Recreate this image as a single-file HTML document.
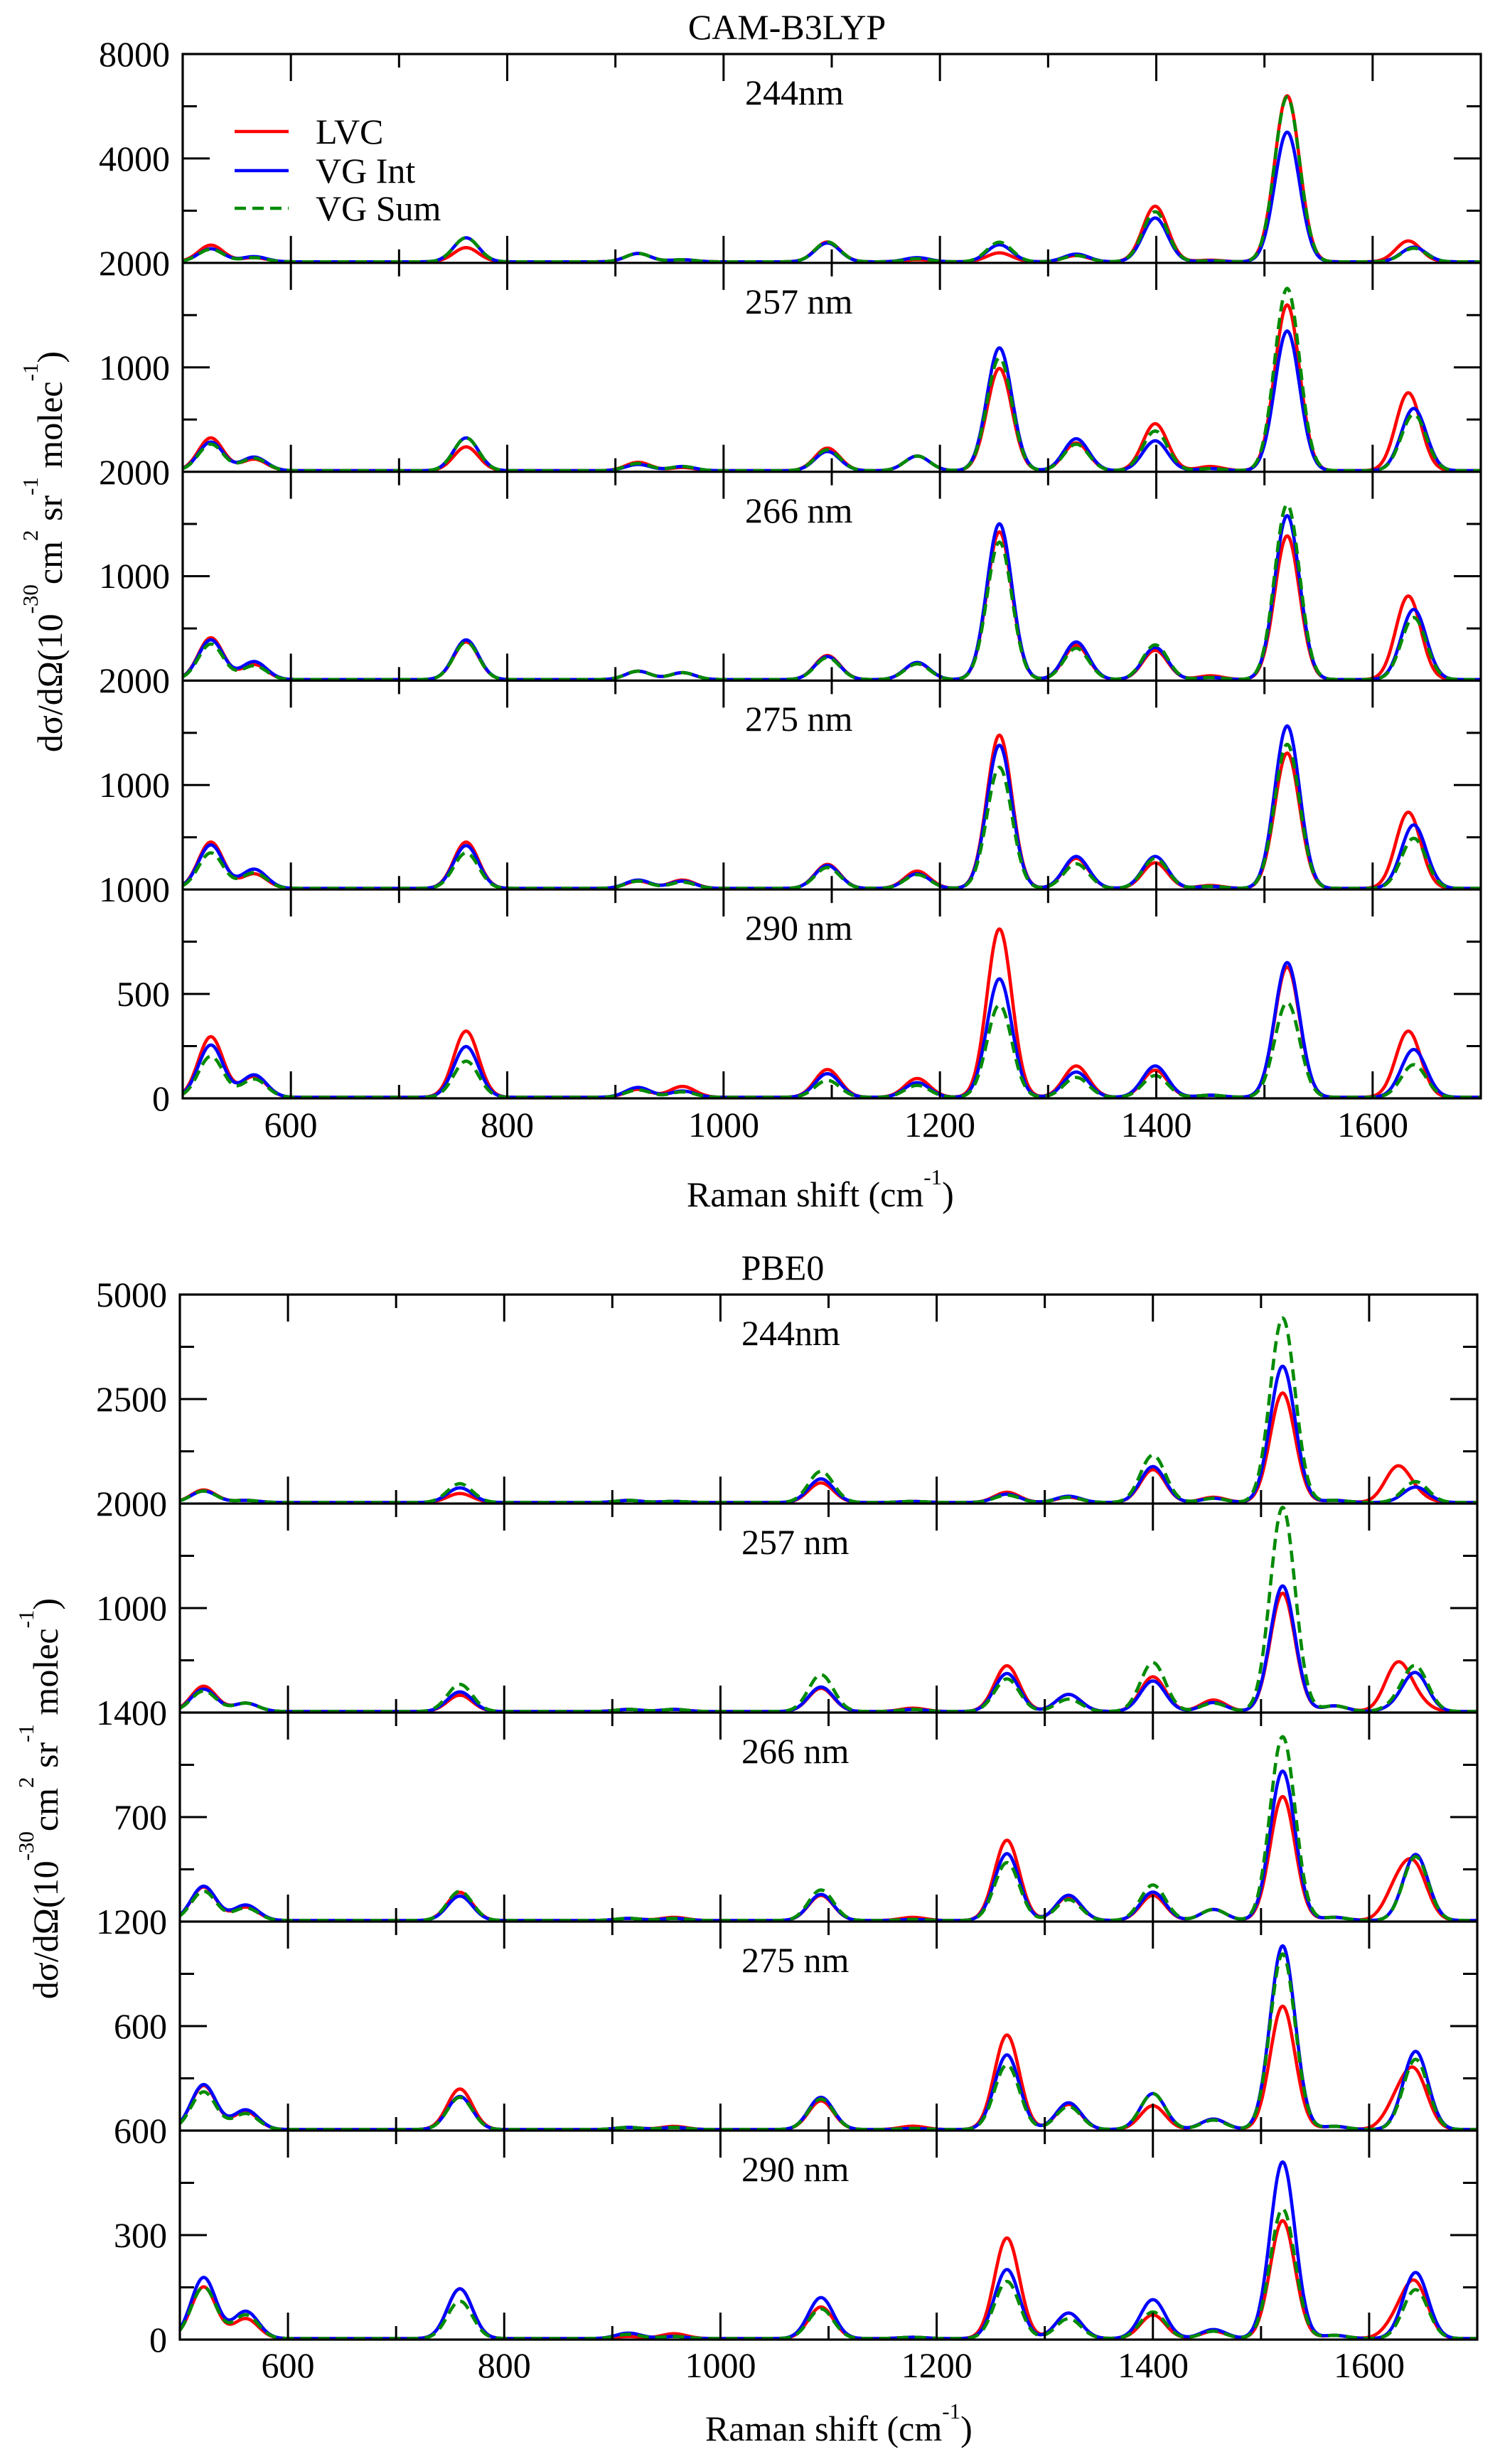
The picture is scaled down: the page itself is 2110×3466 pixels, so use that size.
<!DOCTYPE html>
<html><head><meta charset="utf-8"><style>html,body{margin:0;padding:0;background:#fff}svg{display:block}</style></head>
<body>
<svg id="fig" xmlns="http://www.w3.org/2000/svg" width="2110" height="3466" viewBox="0 0 2110 3466">
<rect x="0" y="0" width="2110" height="3466" fill="#fff"/>
<g id="curves"></g>
<g id="axes"></g>
<g font-family="'Liberation Serif','DejaVu Serif',serif" font-size="50" fill="#000">
<!-- Plot 1 -->
<text x="1107" y="55" text-anchor="middle">CAM-B3LYP</text>
<g text-anchor="end">
<text x="239" y="93">8000</text><text x="239" y="240">4000</text><text x="239" y="387">2000</text>
<text x="239" y="534">1000</text><text x="239" y="681">2000</text><text x="239" y="827">1000</text>
<text x="239" y="974">2000</text><text x="239" y="1121">1000</text><text x="239" y="1268">1000</text>
<text x="239" y="1415">500</text><text x="239" y="1562">0</text>
</g>
<g text-anchor="middle">
<text x="409" y="1599">600</text><text x="713.5" y="1599">800</text><text x="1018" y="1599">1000</text>
<text x="1322" y="1599">1200</text><text x="1626.5" y="1599">1400</text><text x="1931" y="1599">1600</text>
</g>
<text x="1048" y="147">244nm</text><text x="1048" y="441">257 nm</text><text x="1048" y="735">266 nm</text>
<text x="1048" y="1028">275 nm</text><text x="1048" y="1322">290 nm</text>
<text x="444" y="202">LVC</text><text x="444" y="257">VG Int</text><text x="444" y="310">VG Sum</text>
<text x="966" y="1697">Raman shift (cm<tspan dy="-31" font-size="31">-1</tspan><tspan dy="31">)</tspan></text>
<text transform="translate(87,776) rotate(-90)" text-anchor="middle">dσ/dΩ(10<tspan dy="-34" font-size="31">-30</tspan><tspan dy="34">cm</tspan><tspan dy="-34" font-size="31">2</tspan><tspan dy="34"> sr</tspan><tspan dy="-34" font-size="31">-1</tspan><tspan dy="34"> molec</tspan><tspan dy="-34" font-size="31">-1</tspan><tspan dy="34">)</tspan></text>
<!-- Plot 2 -->
<text x="1101" y="1800" text-anchor="middle">PBE0</text>
<g text-anchor="end">
<text x="235" y="1838">5000</text><text x="235" y="1985">2500</text><text x="235" y="2132">2000</text>
<text x="235" y="2279">1000</text><text x="235" y="2426">1400</text><text x="235" y="2573">700</text>
<text x="235" y="2720">1200</text><text x="235" y="2867">600</text><text x="235" y="3014">600</text>
<text x="235" y="3161">300</text><text x="235" y="3308">0</text>
</g>
<g text-anchor="middle">
<text x="405" y="3344">600</text><text x="709.3" y="3344">800</text><text x="1013.5" y="3344">1000</text>
<text x="1317.8" y="3344">1200</text><text x="1622" y="3344">1400</text><text x="1926" y="3344">1600</text>
</g>
<text x="1043" y="1892">244nm</text><text x="1043" y="2186">257 nm</text><text x="1043" y="2480">266 nm</text>
<text x="1043" y="2774">275 nm</text><text x="1043" y="3068">290 nm</text>
<text x="992" y="3433">Raman shift (cm<tspan dy="-31" font-size="31">-1</tspan><tspan dy="31">)</tspan></text>
<text transform="translate(81,2530) rotate(-90)" text-anchor="middle">dσ/dΩ(10<tspan dy="-34" font-size="31">-30</tspan><tspan dy="34">cm</tspan><tspan dy="-34" font-size="31">2</tspan><tspan dy="34"> sr</tspan><tspan dy="-34" font-size="31">-1</tspan><tspan dy="34"> molec</tspan><tspan dy="-34" font-size="31">-1</tspan><tspan dy="34">)</tspan></text>
</g>
<!-- legend lines -->
<line x1="330" y1="185" x2="406" y2="185" stroke="#ff0000" stroke-width="4.6"/>
<line x1="330" y1="240" x2="406" y2="240" stroke="#0000ff" stroke-width="4.6"/>
<line x1="330" y1="293" x2="406" y2="293" stroke="#008b00" stroke-width="4.6" stroke-dasharray="16 9"/>
</svg>
<script>
(function(){
var NS="http://www.w3.org/2000/svg";
function el(tag,attrs,parent){var e=document.createElementNS(NS,tag);for(var k in attrs)e.setAttribute(k,attrs[k]);parent.appendChild(e);return e;}
var axes=document.getElementById('axes'),curves=document.getElementById('curves');
var S=11.5,OFF=1.5;
function drawPlot(P){
  var L=P.L,R=P.R,T=P.T,H=P.H,sx=(R-L)/1200;
  function X(w){return L+(w-500)*sx;}
  var B=T+5*H,p,q,w,k;
  for(p=0;p<5;p++){
    var bot=T+(p+1)*H-OFF;
    var series=[['#ff0000',P.data[p][0],P.cR,null],['#0000ff',P.data[p][1],P.cB,null],['#008b00',P.data[p][2],P.cB,'16 9']];
    for(var s=0;s<3;s++){
      var col=series[s][0],amps=series[s][1],cs=series[s][2],dash=series[s][3];
      var d='';
      for(w=500;w<=1700;w+=1){
        var y=0;
        for(k=0;k<amps.length;k++){var dx=w-cs[k];if(dx>-70&&dx<70)y+=amps[k]*Math.exp(-dx*dx/(2*S*S));}
        d+=(w===500?'M':'L')+X(w).toFixed(1)+' '+(bot-y*H).toFixed(1);
      }
      var a={d:d,fill:'none',stroke:col,'stroke-width':4.6,'stroke-linejoin':'round'};
      if(dash)a['stroke-dasharray']=dash;
      el('path',a,curves);
    }
  }
  el('rect',{x:L,y:T,width:R-L,height:B-T,fill:'none',stroke:'#000','stroke-width':3.2},axes);
  for(p=1;p<5;p++){el('line',{x1:L,y1:T+p*H,x2:R,y2:T+p*H,stroke:'#000','stroke-width':3.2},axes);}
  for(p=0;p<5;p++){
    var top=T+p*H,bt=top+H;
    for(w=600;w<=1600;w+=100){
      var len=(w%200===0)?38:19,x=X(w);
      el('line',{x1:x,y1:top,x2:x,y2:top+len,stroke:'#000','stroke-width':3},axes);
      el('line',{x1:x,y1:bt,x2:x,y2:bt-len,stroke:'#000','stroke-width':3},axes);
    }
    for(q=1;q<=3;q++){
      var yy=bt-q*H/4,ln=(q===2)?38:20;
      el('line',{x1:L,y1:yy,x2:L+ln,y2:yy,stroke:'#000','stroke-width':3},axes);
      el('line',{x1:R,y1:yy,x2:R-ln,y2:yy,stroke:'#000','stroke-width':3},axes);
    }
  }
}
var camR=[526,566,762,921,962,1096,1179,1255,1326,1399,1450,1521,1633];
var camB=[526,566,762,921,962,1096,1179,1255,1326,1399,1450,1521,1638];
drawPlot({L:257,R:2083,T:76,H:293.8,cR:camR,cB:camB,data:[
 [[0.08,0.02,0.068,0.04,0.01,0.095,0.01,0.043,0.03,0.266,0.008,0.795,0.10],
  [0.0625,0.025,0.115,0.04,0.01,0.09,0.02,0.082,0.037,0.21,0.005,0.621,0.07],
  [0.06,0.02,0.115,0.04,0.01,0.095,0.015,0.094,0.03,0.24,0.005,0.79,0.065]],
 [[0.157,0.055,0.114,0.04,0.015,0.108,0.07,0.49,0.133,0.225,0.02,0.794,0.373],
  [0.137,0.065,0.157,0.03,0.02,0.092,0.07,0.588,0.153,0.143,0.01,0.669,0.298],
  [0.127,0.06,0.157,0.035,0.02,0.10,0.07,0.54,0.127,0.19,0.01,0.873,0.27]],
 [[0.20,0.072,0.18,0.04,0.033,0.115,0.08,0.707,0.164,0.14,0.018,0.688,0.40],
  [0.19,0.086,0.19,0.04,0.033,0.11,0.082,0.746,0.18,0.154,0.01,0.785,0.336],
  [0.17,0.066,0.18,0.04,0.033,0.105,0.075,0.658,0.15,0.166,0.01,0.838,0.297]],
 [[0.222,0.07,0.222,0.035,0.04,0.115,0.083,0.734,0.144,0.123,0.014,0.648,0.365],
  [0.208,0.092,0.205,0.04,0.035,0.11,0.07,0.686,0.153,0.153,0.01,0.778,0.304],
  [0.17,0.075,0.17,0.035,0.03,0.10,0.066,0.58,0.118,0.144,0.01,0.69,0.24]],
 [[0.29,0.10,0.317,0.038,0.052,0.133,0.09,0.806,0.15,0.13,0.01,0.624,0.317],
  [0.25,0.107,0.243,0.047,0.03,0.113,0.07,0.567,0.121,0.15,0.01,0.645,0.229],
  [0.196,0.087,0.173,0.035,0.026,0.081,0.057,0.442,0.095,0.104,0.01,0.454,0.156]]
]});
var pbe=[522,561,759,915,957,1093,1178,1265,1322,1400,1456,1520,1568,1626,1643];
drawPlot({L:253,R:2078,T:1821,H:294,cR:pbe,cB:pbe,data:[
 [[0.06,0.01,0.043,0.01,0.005,0.094,0.005,0.049,0.025,0.157,0.025,0.524,0.01,0.165,0.03],
  [0.055,0.01,0.07,0.01,0.005,0.113,0.005,0.04,0.03,0.172,0.02,0.652,0.01,0,0.074],
  [0.055,0.01,0.09,0.01,0.005,0.149,0.005,0.035,0.025,0.227,0.02,0.883,0.01,0,0.10]],
 [[0.121,0.04,0.078,0.01,0.01,0.111,0.016,0.219,0.082,0.166,0.055,0.566,0.027,0.22,0.05],
  [0.107,0.04,0.094,0.01,0.01,0.117,0.01,0.182,0.082,0.146,0.043,0.601,0.027,0.02,0.18],
  [0.098,0.04,0.13,0.01,0.01,0.176,0.01,0.156,0.059,0.234,0.04,0.977,0.027,0.03,0.21]],
 [[0.16,0.064,0.135,0.01,0.015,0.12,0.015,0.384,0.115,0.12,0.053,0.593,0.015,0.15,0.23],
  [0.164,0.074,0.117,0.01,0.01,0.125,0.005,0.32,0.121,0.136,0.053,0.715,0.015,0,0.316],
  [0.14,0.06,0.14,0.01,0.01,0.146,0.005,0.277,0.10,0.17,0.053,0.88,0.015,0,0.306]],
 [[0.21,0.085,0.194,0.01,0.015,0.137,0.016,0.452,0.12,0.114,0.05,0.59,0.015,0.12,0.25],
  [0.215,0.094,0.158,0.01,0.01,0.154,0.005,0.357,0.128,0.172,0.05,0.879,0.015,0,0.374],
  [0.18,0.076,0.154,0.01,0.01,0.146,0.005,0.31,0.11,0.172,0.045,0.84,0.015,0,0.336]],
 [[0.247,0.095,0.238,0.01,0.023,0.151,0.006,0.481,0.122,0.113,0.035,0.564,0.015,0.08,0.25],
  [0.292,0.13,0.238,0.026,0.01,0.196,0.006,0.33,0.122,0.186,0.043,0.845,0.015,0,0.316],
  [0.247,0.113,0.179,0.02,0.01,0.142,0.006,0.273,0.095,0.127,0.035,0.62,0.015,0,0.234]]
]});
})();
</script>
</body></html>
